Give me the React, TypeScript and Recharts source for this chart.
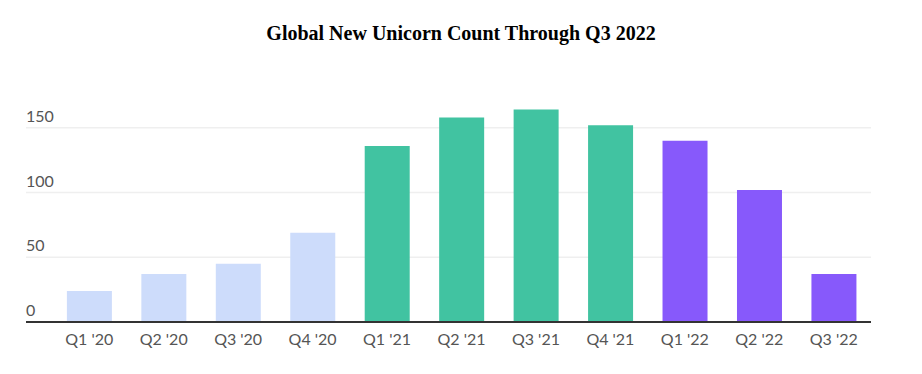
import { BarChart, Bar, XAxis, YAxis, CartesianGrid, Cell } from 'recharts';

const quarters = ["Q1 '20", "Q2 '20", "Q3 '20", "Q4 '20", "Q1 '21", "Q2 '21", "Q3 '21", "Q4 '21", "Q1 '22", "Q2 '22", "Q3 '22"];
const unicornCounts = [24, 37, 45, 69, 136, 158, 164, 152, 140, 102, 37];
const years = ['2020', '2020', '2020', '2020', '2021', '2021', '2021', '2021', '2022', '2022', '2022'];
const yTicks = [0, 50, 100, 150];

const YEAR_COLORS: Record<string, string> = {
  '2020': '#cddcfb',
  '2021': '#41c3a1',
  '2022': '#8759fb',
};

const chartData = quarters.map((quarter, i) => ({
  quarter,
  count: unicornCounts[i],
  year: years[i],
}));

const LABEL_FONT = 'Lato, "Open Sans", sans-serif';

function YTick(props: any) {
  const { y, payload } = props;
  return (
    <text x={26} y={y - 6} fill="#555" fontSize={16} fontFamily={LABEL_FONT} textAnchor="start">
      {payload.value}
    </text>
  );
}

export default function App() {
  return (
    <div style={{ position: 'absolute', left: 0, top: 0, width: 922, height: 374, background: '#fff' }}>
      <div
        style={{
          position: 'absolute',
          top: 22,
          left: 0,
          width: 922,
          textAlign: 'center',
          fontFamily: '"Liberation Serif", "Times New Roman", serif',
          fontWeight: 'bold',
          fontSize: 20,
          color: '#000',
        }}
      >
        Global New Unicorn Count Through Q3 2022
      </div>
      <BarChart
        width={922}
        height={374}
        data={chartData}
        margin={{ top: 63, right: 51, left: 25, bottom: 22 }}
        barCategoryGap="20%"
      >
        <CartesianGrid vertical={false} horizontalValues={yTicks} stroke="#efefef" strokeWidth={1.5} />
        <XAxis
          dataKey="quarter"
          height={30}
          padding={{ left: 26, right: 0 }}
          axisLine={{ stroke: '#333', strokeWidth: 2 }}
          tickLine={false}
          tick={{ fill: '#555', fontSize: 16, fontFamily: LABEL_FONT, dy: 4 }}
          interval={0}
        />
        <YAxis
          width={1}
          type="number"
          domain={[0, 200]}
          ticks={yTicks}
          interval={0}
          axisLine={false}
          tickLine={false}
          tick={<YTick />}
        />
        <Bar dataKey="count" isAnimationActive={false}>
          {chartData.map((entry, index) => (
            <Cell key={`cell-${index}`} fill={YEAR_COLORS[entry.year]} />
          ))}
        </Bar>
      </BarChart>
    </div>
  );
}
